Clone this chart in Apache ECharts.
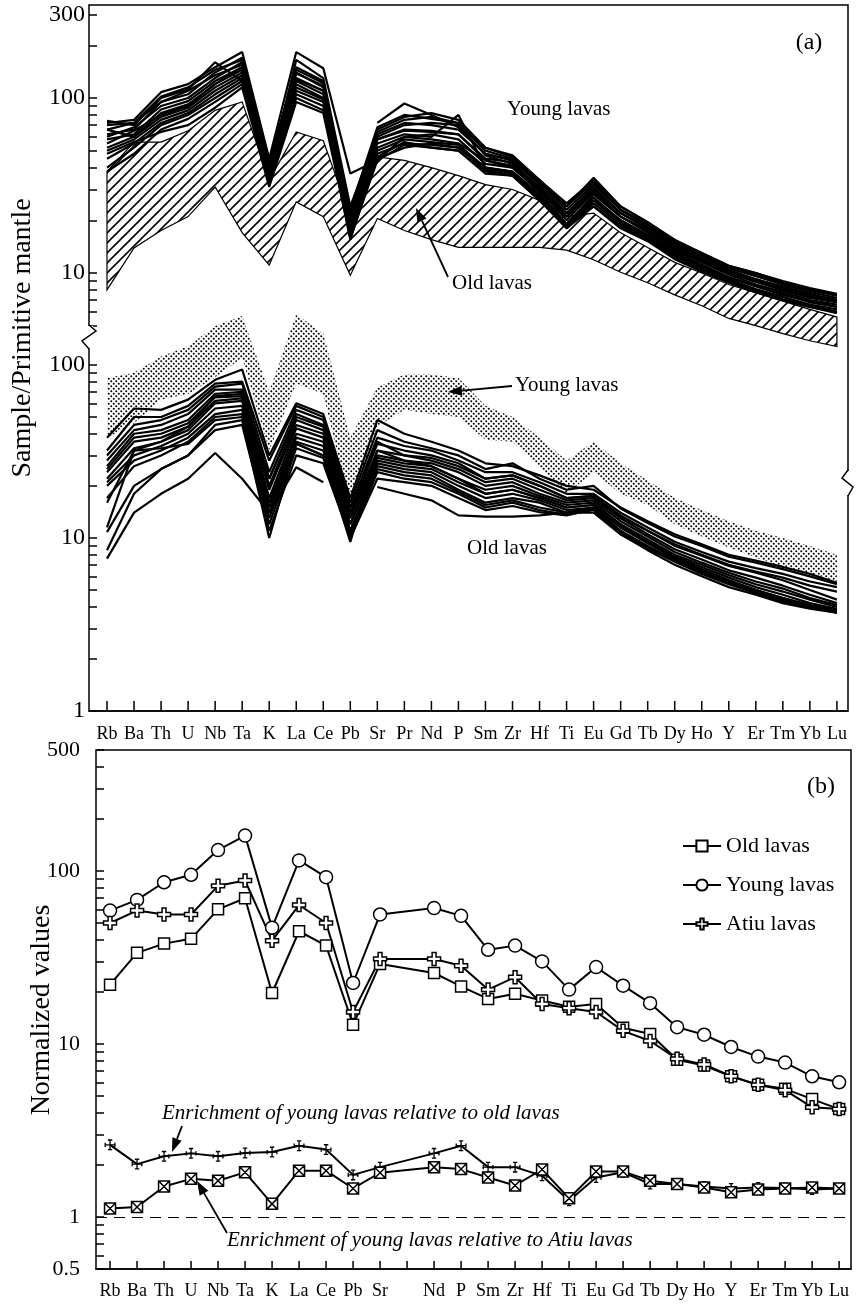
<!DOCTYPE html>
<html>
<head>
<meta charset="utf-8">
<script src="https://cdn.jsdelivr.net/npm/echarts@6/dist/echarts.min.js"></script>
<style>
  html, body { margin: 0; padding: 0; background: #fff; }
  #chart { width: 856px; height: 1304px; }
</style>
</head>
<body>
<div id="chart"></div>
<script>
const elements = ['Rb','Ba','Th','U','Nb','Ta','K','La','Ce','Pb','Sr','Pr','Nd','P','Sm','Zr','Hf','Ti','Eu','Gd','Tb','Dy','Ho','Y','Er','Tm','Yb','Lu'];

// panel (a), upper part: young lava samples
const youngLines = [
  [72, 75, 108, 120, 150, 183, 45, 183, 148, 37, 44, 60, 62, 58, 42, 40, 30, 22, 30, 22, 18, 14, 12, 10.2, 9.2, 8.4, 7.6, 7.0],
  [74, 70, 100, 112, 160, 125, 38, 165, 130, 24, 62, 72, 70, 66, 48, 44, 33, 24, 33, 23, 19, 15, 12.8, 10.8, 9.8, 8.8, 8.0, 7.5],
  [66, 72, 95, 105, 140, 170, 42, 150, 125, 22, 66, 78, 82, 75, 52, 46, 34, 25, 34, 24, 19.5, 15.2, 13, 11, 10, 8.8, 8.0, 7.4],
  [60, 68, 90, 100, 130, 160, 40, 140, 115, 20, 60, 70, 72, 70, 47, 42, 31, 21, 30, 22, 18, 14.5, 12.2, 10.4, 9.2, 8.2, 7.4, 7.0],
  [58, 62, 86, 96, 125, 150, 36, 130, 110, 19, 58, 66, 65, 62, 45, 43, 30, 20, 29, 21, 17.5, 13.8, 11.8, 10, 8.9, 8.0, 7.2, 6.8],
  [55, 65, 80, 90, 120, 145, 34, 125, 105, 18, 55, 62, 60, 80, 40, 38, 28, 19, 28, 21, 17, 13.5, 11.5, 9.8, 8.6, 7.8, 7.0, 6.6],
  [52, 60, 78, 88, 115, 140, 33, 120, 100, 17, 52, 60, 58, 55, 44, 40, 29, 19, 27, 20, 16.5, 13.2, 11.2, 9.5, 8.4, 7.6, 6.8, 6.4],
  [50, 58, 75, 85, 110, 135, 35, 115, 98, 16, 50, 58, 56, 54, 40, 37, 27, 18, 26, 19.5, 16, 12.8, 10.8, 9.2, 8.1, 7.3, 6.6, 6.2],
  [45, 55, 72, 82, 105, 130, 32, 110, 95, 16, 48, 55, 54, 52, 39, 36, 27, 18.5, 25, 19, 15.8, 12.5, 10.5, 9.0, 8.0, 7.1, 6.5, 6.0],
  [40, 52, 70, 80, 100, 125, 33, 105, 90, 15.5, 46, 56, 52, 50, 38, 36, 26, 18, 24, 18.5, 15.5, 12.2, 10.2, 8.8, 7.8, 7.0, 6.4, 5.9],
  [38, 48, 66, 76, 95, 120, 34, 100, 85, 17, 45, 52, 55, 52, 40, 38, 28, 19, 26, 20, 16.5, 13, 11, 9.4, 8.4, 7.5, 6.9, 6.4],
  [62, 66, 95, 110, 135, 155, 40, 138, 118, 21, 64, 75, 78, 72, 50, 45, 33, 23, 32, 23, 18.5, 14.8, 12.5, 10.6, 9.6, 8.6, 7.8, 7.2],
  [70, 72, 102, 115, 145, 165, 44, 145, 122, 23, 68, 80, 76, 72, 52, 47, 34, 24, 35, 24, 19.5, 15.5, 13, 11, 10, 9, 8.2, 7.6],
  [48, 56, 64, 70, 88, 115, 31, 95, 82, 16, 44, 54, 52, 50, 37, 36, 26, 18.5, 24, 18, 15.2, 12, 10.2, 8.9, 7.8, 7.0, 6.4, 6.0],
  [null, null, null, null, null, null, null, null, null, null, 72, 93, 80, 68, 48, 44, 32, 22, 31, 22, 18, 14.2, 12, 10.2, 9.2, 8.2, 7.5, 7.0],
  [66, 60, 82, 92, 120, 150, 38, 128, 110, 19, 58, 65, 64, 62, 44, 41, 30, 21, 29, 21, 17.5, 14, 11.8, 10, 9, 8, 7.3, 6.9]
];
// hatched field = range of old lavas (upper part)
const oldBandLow  = [8, 13.9, 17.5, 21, 31, 17, 11.1, 25.5, 21, 9.7, 20.5, 17.5, 15.5, 14, 14, 14, 14, 13.5, 11.9, 10.1, 8.8, 7.5, 6.5, 5.5, 5.0, 4.5, 4.1, 3.8];
const oldBandHigh = [38, 56, 56, 65, 85, 95, 34, 64, 57, 21, 46, 44, 40, 36, 32, 30, 26, 21, 22, 17, 14, 11.5, 10, 8.6, 7.7, 6.9, 6.2, 5.6];

// panel (a), lower part: old lava samples
const oldLines = [
  [38, 56, 55, 63, 82, 94, 30, 60, 52, 17, 48, 40, 36, 32, 27, 26, 23, 20, 19, 15, 12.5, 10.5, 9.2, 8.0, 7.4, 6.8, 6.2, 5.5],
  [32, 50, 50, 58, 78, 80, 28, 58, 50, 16, 42, 36, 33, 30, 25, 27, 22, 19, 20, 14.8, 12.2, 10.2, 9.0, 7.8, 7.2, 6.6, 6.0, 5.4],
  [30, 45, 48, 55, 75, 78, 24, 55, 48, 15, 38, 34, 32, 28, 24, 24, 21, 18, 18, 14, 11.5, 9.5, 8.3, 7.3, 6.7, 6.2, 5.6, 5.2],
  [28, 42, 45, 52, 72, 72, 22, 52, 45, 14, 35, 32, 30, 27, 22, 23, 20, 17, 17.5, 13.5, 11, 9.0, 7.9, 6.9, 6.3, 5.7, 5.0, 4.4],
  [26, 40, 42, 48, 68, 70, 20, 48, 42, 13.5, 32, 30, 28, 25, 21, 22, 19, 16.5, 17, 13, 10.5, 8.6, 7.5, 6.5, 5.9, 5.3, 4.7, 4.2],
  [25, 38, 40, 46, 65, 66, 19, 45, 40, 13, 30, 28, 27, 24, 20, 21, 18, 16, 16.5, 12.5, 10.2, 8.3, 7.2, 6.3, 5.6, 5.1, 4.5, 4.1],
  [24, 36, 38, 44, 62, 64, 17, 43, 38, 12, 29, 27, 26, 22, 19, 20, 17.5, 15.5, 16, 12, 9.8, 8.0, 7.0, 6.1, 5.4, 4.9, 4.4, 4.0],
  [22, 33, 36, 42, 60, 62, 16, 40, 36, 12, 28, 26, 25, 21, 18, 19, 17, 15, 15.5, 11.8, 9.6, 7.8, 6.8, 5.9, 5.2, 4.7, 4.2, 3.9],
  [21, 30, 34, 40, 56, 58, 15, 38, 34, 11, 27, 25, 24, 20, 17, 18, 16.5, 14.5, 15, 11.5, 9.3, 7.6, 6.6, 5.7, 5.0, 4.5, 4.1, 3.8],
  [20, 28, 32, 38, 52, 55, 14, 36, 32, 11, 26, 24, 23, 19, 16, 17, 16, 14, 15, 11, 9.0, 7.4, 6.4, 5.6, 4.9, 4.4, 4.0, 3.7],
  [17, 26, 30, 36, 50, 52, 13, 35, 30, 10.5, 25, 23, 22, 18.5, 15.5, 16.5, 15, 14, 14.7, 10.8, 8.8, 7.3, 6.3, 5.5, 4.9, 4.3, 3.95, 3.75],
  [11.5, 32, 33, 35, 48, 50, 12, 33, 29, 10, 24, 22, 21, 18, 15, 16, 14.5, 13.6, 14.5, 10.5, 8.8, 7.5, 6.5, 5.6, 5.0, 4.4, 4.0, 3.8],
  [10.8, 20, 25, 30, 42, 45, 11, 30, 27, 10, 22, 21, 20, 17, 14.5, 15.3, 14.1, 13.5, 14.7, 10.5, 8.7, 7.3, 6.2, 5.4, 4.8, 4.3, 3.95, 3.7],
  [7.6, 14, 18, 22, 31, 22, 14, 25.6, 21, null, 19.7, 18, 16.5, 13.5, 13.3, 13.3, 13.5, 14, 14, 10.5, 8.5, 7.0, 6.0, 5.2, 4.7, 4.2, 3.9, 3.7],
  [8.5, 18, 25, 30, 45, 48, 10, 35, 30, 9.5, 32, 28, 26, 22, 18, 19, 17, 15, 15.5, 11.5, 9.5, 7.7, 6.6, 5.7, 5.0, 4.5, 4.1, 3.8],
  [16, 32, 36, 44, 66, 68, 22, 50, 44, 14, 36, 30, 29, 26, 22, 23, 20, 17, 17.5, 13.2, 11, 9.2, 8.0, 7.0, 6.4, 5.9, 5.3, 4.9]
];
// stippled field = range of young lavas (lower part)
const youngBandLow  = [38, 46, 63, 68, 85, 110, 32, 78, 68, 15, 44, 55, 52, 50, 37, 36, 26, 18, 24, 18, 15.5, 12, 10.2, 8.8, 7.7, 6.8, 6.3, 5.6];
const youngBandHigh = [84, 90, 112, 128, 168, 192, 70, 196, 152, 38, 74, 88, 88, 84, 58, 50, 38, 28, 36, 27, 21.5, 17, 14.5, 12.5, 11, 10, 9, 8];

// panel (b)
const oldAvg   = [22, 33.6, 38, 40.5, 60, 69.5, 19.7, 44.8, 37, 12.9, 29, null, 25.7, 21.5, 18.2, 19.5, 17.8, 16.4, 17, 12.4, 11.4, 8.1, 7.5, 6.5, 5.8, 5.5, 4.8, 4.2];
const youngAvg = [59, 68, 86, 95, 132, 160, 47, 115, 92, 22.5, 56, null, 61, 55, 35, 37, 30, 20.6, 27.8, 21.7, 17.2, 12.5, 11.3, 9.6, 8.45, 7.8, 6.5, 6.0];
const atiuAvg  = [50, 59, 56, 56, 82, 88, 39.5, 63.5, 50, 15.3, 31, null, 31, 28.3, 20.6, 24.3, 17, 16.1, 15.3, 11.9, 10.4, 8.2, 7.6, 6.5, 5.8, 5.4, 4.3, 4.2];
const youngOverOld  = [2.61, 2.02, 2.24, 2.33, 2.24, 2.34, 2.37, 2.58, 2.45, 1.75, 1.94, null, 2.33, 2.58, 1.94, 1.94, 1.73, 1.24, 1.69, 1.81, 1.55, 1.55, 1.50, 1.46, 1.48, 1.47, 1.44, 1.46];
const youngOverAtiu = [1.12, 1.14, 1.50, 1.66, 1.62, 1.81, 1.19, 1.85, 1.85, 1.46, 1.80, null, 1.94, 1.89, 1.69, 1.52, 1.88, 1.28, 1.83, 1.83, 1.62, 1.55, 1.48, 1.39, 1.44, 1.46, 1.48, 1.46];

// axis ticks / labels
const ticksUpper  = [5, 6, 7, 8, 9, 10, 20, 30, 40, 50, 60, 70, 80, 90, 100, 200, 300];
const labelsUpper = [10, 100, 300];
const ticksLower  = [1, 2, 3, 4, 5, 6, 7, 8, 9, 10, 20, 30, 40, 50, 60, 70, 80, 90, 100];
const labelsLower = [1, 10, 100];
const ticksB  = [0.5, 0.6, 0.7, 0.8, 0.9, 1, 2, 3, 4, 5, 6, 7, 8, 9, 10, 20, 30, 40, 50, 60, 70, 80, 90, 100, 200, 300, 400, 500];
const labelsB = [0.5, 1, 10, 100, 500];
const ticksX = elements.map((e, i) => i);
const labelsBx = ticksX.filter(i => elements[i] !== 'Pr');

const FONT = 'Liberation Serif';
const chart = echarts.init(document.getElementById('chart'));

function hatchCanvas() {
  const c = document.createElement('canvas');
  c.width = 10; c.height = 10;
  const g = c.getContext('2d');
  g.fillStyle = '#fff'; g.fillRect(0, 0, 10, 10);
  g.strokeStyle = '#000'; g.lineWidth = 1.6;
  g.beginPath();
  g.moveTo(-2, 12); g.lineTo(12, -2);
  g.moveTo(-7, 7); g.lineTo(7, -7);
  g.moveTo(3, 17); g.lineTo(17, 3);
  g.stroke();
  return c;
}
function dotCanvas() {
  const c = document.createElement('canvas');
  c.width = 5; c.height = 5;
  const g = c.getContext('2d');
  g.fillStyle = '#000';
  g.beginPath(); g.arc(1.25, 1.25, 1.0, 0, Math.PI * 2); g.fill();
  g.beginPath(); g.arc(3.75, 3.75, 1.0, 0, Math.PI * 2); g.fill();
  return c;
}
const hatch = { image: hatchCanvas(), repeat: 'repeat' };
const dots = { image: dotCanvas(), repeat: 'repeat' };

function bandSeries(low, high, xi, yi, style) {
  return {
    type: 'custom', xAxisIndex: xi, yAxisIndex: yi, silent: true, z: 1,
    encode: { x: 0, y: [1, 2] },
    data: low.map((v, i) => [i, v, high[i]]),
    renderItem(params, api) {
      if (params.dataIndexInside !== 0) return null;
      const top = [], bottom = [];
      for (let j = 0; j < params.dataInsideLength; j++) {
        top.push(api.coord([api.value(0, j), api.value(2, j)]));
        bottom.push(api.coord([api.value(0, j), api.value(1, j)]));
      }
      return { type: 'polygon', shape: { points: top.concat(bottom.reverse()) }, style };
    }
  };
}

// element ticks along the bottom edge, placed through the x scale
function tickSeries(xi, yi, len) {
  return {
    type: 'custom', xAxisIndex: xi, yAxisIndex: yi, silent: true, z: 5,
    encode: { x: 0, y: 1 },
    data: ticksX.map(i => [i, 10]),
    renderItem(params, api) {
      const p = api.coord([api.value(0), api.value(1)]);
      const bottom = params.coordSys.y + params.coordSys.height;
      return {
        type: 'line',
        shape: { x1: p[0], y1: bottom, x2: p[0], y2: bottom - len },
        style: { stroke: '#000', lineWidth: 1.5 }
      };
    }
  };
}

function lineSeries(vals, xi, yi, name) {
  return {
    name, type: 'line', xAxisIndex: xi, yAxisIndex: yi, z: 2,
    data: vals.map((v, i) => [i, v]),
    symbol: 'none', silent: true, clip: false,
    lineStyle: { color: '#000', width: 2.2 }
  };
}

const SYM_ATIU = 'path://M3.5,0H6.5V3.5H10V6.5H6.5V10H3.5V6.5H0V3.5H3.5Z';
const SYM_BOXX = 'path://M0,0H10V10H0Z M0,0L10,10 M10,0L0,10';
const SYM_CROSS = 'path://M3,0H7V1.2H5.6V4.4H8.8V3H10V7H8.8V5.6H5.6V8.8H7V10H3V8.8H4.4V5.6H1.2V7H0V3H1.2V4.4H4.4V1.2H3Z';

function markSeries(name, vals, symbol, size, fill, extra) {
  return Object.assign({
    name, type: 'line', xAxisIndex: 2, yAxisIndex: 2, z: 3,
    data: vals.map((v, i) => [i, v]),
    connectNulls: true,
    symbol, symbolSize: size, showAllSymbol: true,
    itemStyle: { color: fill, borderColor: '#000', borderWidth: 1.5 },
    lineStyle: { color: '#000', width: 2 }
  }, extra || {});
}

function arrow(x1, y1, x2, y2) {
  const a = Math.atan2(y2 - y1, x2 - x1), L = 14, W = 5;
  const bx = x2 - L * Math.cos(a), by = y2 - L * Math.sin(a);
  const px = -Math.sin(a) * W, py = Math.cos(a) * W;
  return [
    { type: 'line', z: 100, shape: { x1, y1, x2: bx, y2: by }, style: { stroke: '#000', lineWidth: 1.8 } },
    { type: 'polygon', z: 100, shape: { points: [[x2, y2], [bx + px, by + py], [bx - px, by - py]] }, style: { fill: '#000' } }
  ];
}
function txt(x, y, text, size, opts) {
  const o = opts || {};
  return {
    type: 'text', z: 100, x, y, rotation: o.rotation || 0,
    style: {
      text, fill: '#000', fontFamily: FONT, fontSize: size, fontStyle: o.italic ? 'italic' : 'normal',
      textAlign: o.align || 'left', align: o.align || 'left',
      textVerticalAlign: 'middle', verticalAlign: 'middle'
    }
  };
}
function zigzag(pts, mask) {
  return [
    { type: 'rect', z: 99, shape: mask, style: { fill: '#fff' } },
    { type: 'polyline', z: 100, shape: { points: pts }, style: { stroke: '#000', lineWidth: 1.5, fill: null } }
  ];
}

const xCommon = (labels, margin) => ({
  type: 'value',
  axisLine: { show: true, onZero: false, lineStyle: { color: '#000', width: 1.5 } },
  splitLine: { show: false },
  axisTick: { show: false },
  axisLabel: {
    show: true, customValues: labels, margin, color: '#000', fontFamily: FONT, fontSize: 18,
    formatter: v => elements[Math.round(v)]
  }
});

const yLog = (min, max, ticks, labels, size, margin) => ({
  type: 'log', logBase: 10, min, max,
  axisLine: { show: false, onZero: false },
  splitLine: { show: false },
  minorTick: { show: false },
  axisTick: { show: true, inside: true, length: 8, customValues: ticks, lineStyle: { color: '#000', width: 1.5 } },
  axisLabel: { show: true, customValues: labels, margin, color: '#000', fontFamily: FONT, fontSize: size, formatter: v => String(v) }
});

const series = [];
series.push(bandSeries(oldBandLow, oldBandHigh, 0, 0, { fill: hatch, stroke: '#000', lineWidth: 1.2 }));
youngLines.forEach((l, i) => series.push(lineSeries(l, 0, 0, 'young-' + i)));
series.push(bandSeries(youngBandLow, youngBandHigh, 1, 1, { fill: dots, stroke: null }));
oldLines.forEach((l, i) => series.push(lineSeries(l, 1, 1, 'old-' + i)));
series.push(tickSeries(0, 0, 10));
series.push(tickSeries(2, 2, 8));

series.push(markSeries('Old lavas', oldAvg, 'rect', 11, '#fff'));
series.push(markSeries('Young lavas', youngAvg, 'circle', 13, '#fff'));
series.push(markSeries('Atiu lavas', atiuAvg, SYM_ATIU, 13, '#fff'));
series.push(markSeries('young/old', youngOverOld, SYM_CROSS, 11, '#000', { itemStyle: { color: '#000', borderWidth: 0 } }));
series.push(markSeries('young/Atiu', youngOverAtiu, SYM_BOXX, 11, '#fff', {
  markLine: {
    silent: true, symbol: ['none', 'none'], label: { show: false },
    lineStyle: { color: '#000', width: 1, type: [11, 7] },
    data: [{ yAxis: 1 }]
  }
}));

const option = {
  animation: false,
  backgroundColor: '#fff',
  grid: [
    { left: 89, top: 5, width: 759, height: 706, show: true, borderColor: '#000', borderWidth: 1.5 },
    { left: 89, top: 337, width: 759, height: 374 },
    { left: 96, top: 750, width: 755, height: 519, show: true, borderColor: '#000', borderWidth: 1.5 }
  ],
  xAxis: [
    Object.assign(xCommon(ticksX, 14), { gridIndex: 0, min: -0.666, max: 27.41 }),
    { type: 'value', gridIndex: 1, min: -0.666, max: 27.41, show: false },
    Object.assign(xCommon(labelsBx, 13), { gridIndex: 2, min: -0.52, max: 27.44 })
  ],
  yAxis: [
    Object.assign(yLog(0.0314, 340, ticksUpper, labelsUpper, 24, 4), { gridIndex: 0 }),
    Object.assign(yLog(1, 145, ticksLower, labelsLower, 24, 4), { gridIndex: 1 }),
    Object.assign(yLog(0.5, 500, ticksB, labelsB, 22, 16), { gridIndex: 2 })
  ],
  legend: {
    data: ['Old lavas', 'Young lavas', 'Atiu lavas'],
    orient: 'vertical', left: 677, top: 830,
    itemWidth: 38, itemHeight: 14, itemGap: 17,
    textStyle: { color: '#000', fontFamily: FONT, fontSize: 22 }
  },
  series,
  graphic: [
    txt(23, 338, 'Sample/Primitive mantle', 28, { rotation: Math.PI / 2, align: 'center' }),
    txt(42, 1010, 'Normalized values', 28, { rotation: Math.PI / 2, align: 'center' }),
    txt(809, 43, '(a)', 24, { align: 'center' }),
    txt(821, 787, '(b)', 24, { align: 'center' }),
    txt(507, 109, 'Young lavas', 21),
    txt(452, 283, 'Old lavas', 21),
    txt(515, 385, 'Young lavas', 21),
    txt(467, 548, 'Old lavas', 21),
    txt(162, 1113, 'Enrichment of young lavas relative to old lavas', 21, { italic: true }),
    txt(227, 1240, 'Enrichment of young lavas relative to Atiu lavas', 21, { italic: true }),
    ...arrow(448, 277, 416, 208),
    ...arrow(512, 386, 448, 392),
    ...arrow(182, 1126, 172, 1152),
    ...arrow(227, 1233, 197, 1181),
    ...zigzag([[89, 325], [96, 331], [82, 341], [89, 349]], { x: 85, y: 326, width: 8, height: 22 }),
    ...zigzag([[848, 470], [842, 478], [853, 487], [848, 496]], { x: 844, y: 471, width: 8, height: 24 })
  ]
};
chart.setOption(option);
</script>
</body>
</html>
